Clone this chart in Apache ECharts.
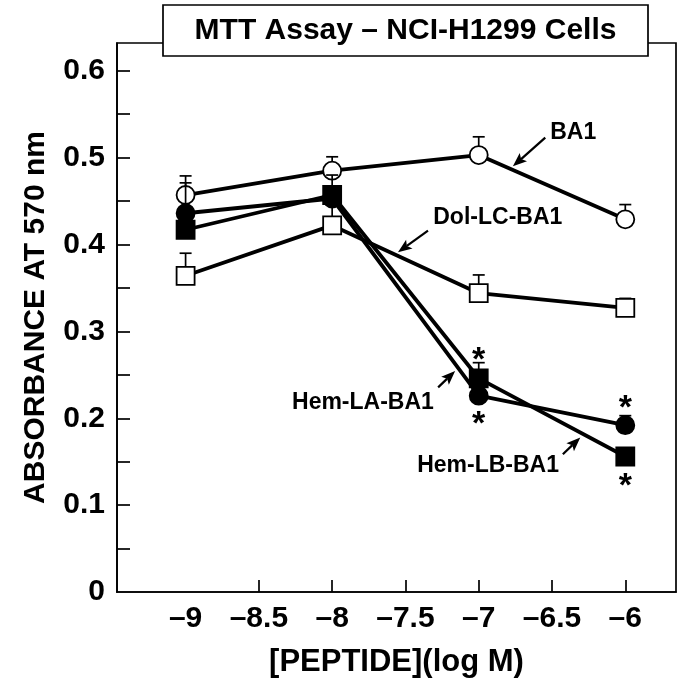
<!DOCTYPE html>
<html><head><meta charset="utf-8">
<script src="https://cdn.jsdelivr.net/npm/echarts@6/dist/echarts.min.js"></script>
<style>html,body{margin:0;padding:0;background:#fff}#c{width:682px;height:683px}</style>
</head><body><div id="c"></div>
<script>
// ---- data ----
const logConc = [-9, -8, -7, -6];
const ba1 = [0.457, 0.485, 0.503, 0.429];
const ba1Err = [0.022, 0.016, 0.021, 0.017];
const dolLC = [0.364, 0.422, 0.344, 0.327];
const dolLCErr = [0.026, 0.030, 0.021, 0.011];
const hemLA = [0.436, 0.453, 0.226, 0.192];
const hemLAErr = [0.035, 0.010, 0.015, 0.011];
const hemLB = [0.417, 0.457, 0.246, 0.156];
const hemLBErr = [0.015, 0.023, 0.018, 0.008];
const xTickLabels = [-9, -8.5, -8, -7.5, -7, -6.5, -6];
const xTickMarks = [-8.5, -8, -7.5, -7, -6.5, -6];
const yTickLabels = [0, 0.1, 0.2, 0.3, 0.4, 0.5, 0.6];
const yTickMarks = [0.05, 0.1, 0.15, 0.2, 0.25, 0.3, 0.35, 0.4, 0.45, 0.5, 0.55, 0.6];
const starX = [-7, -7, -6, -6];
const starY = [0.276, 0.202, 0.220, 0.130];
const labelNames = ['BA1', 'Dol-LC-BA1', 'Hem-LA-BA1', 'Hem-LB-BA1'];
const labelX = [-6.355, -6.870, -7.790, -6.936];
const labelY = [0.529, 0.431, 0.218, 0.145];
const arrowFromX = [-6.546, -7.346, -7.277, -6.426];
const arrowFromY = [0.523, 0.416, 0.2356, 0.1586];
const arrowToX = [-6.767, -7.551, -7.161, -6.307];
const arrowToY = [0.490, 0.391, 0.2544, 0.1778];
const titleText = 'MTT Assay \u2013 NCI-H1299 Cells';
const xName = '[PEPTIDE](log M)';
const yName = 'ABSORBANCE AT 570 nm';

// ---- chart ----
const FONT = '"Liberation Sans", Arial, Helvetica, sans-serif';
const chart = echarts.init(document.getElementById('c'), null, {renderer: 'canvas'});

function pairs(vals) { return logConc.map((x, i) => [x, vals[i]]); }
function errData(vals, errs) { return logConc.map((x, i) => [x, vals[i], errs[i]]); }

function errRender(params, api) {
  const x = api.value(0), y = api.value(1), e = api.value(2);
  const p0 = api.coord([x, y]), p1 = api.coord([x, y + e]);
  const hw = 6;
  const st = {stroke: '#000', lineWidth: 1.7};
  return {type: 'group', children: [
    {type: 'line', shape: {x1: p0[0], y1: p0[1], x2: p1[0], y2: p1[1]}, style: st},
    {type: 'line', shape: {x1: p1[0] - hw, y1: p1[1], x2: p1[0] + hw, y2: p1[1]}, style: st}
  ]};
}

function lineSeries(name, vals, symbol, filled, z) {
  return {
    type: 'line', name: name, data: pairs(vals), z: z,
    symbol: symbol, symbolSize: 18,
    showSymbol: true, animation: false,
    lineStyle: {color: '#000', width: 3.8},
    itemStyle: {color: filled ? '#000' : '#fff', borderColor: '#000', borderWidth: 1.8}
  };
}
function errSeries(vals, errs, z) {
  return {type: 'custom', data: errData(vals, errs), renderItem: errRender, z: z, animation: false, silent: true};
}

const option = {
  animation: false,
  backgroundColor: '#fff',
  grid: {left: 117, top: 43, right: 6, bottom: 90, show: true, borderColor: '#000', borderWidth: 1.7, backgroundColor: 'transparent'},
  xAxis: {
    type: 'value', min: -9.468, max: -5.654,
    name: xName, nameLocation: 'middle', nameGap: 55,
    nameTextStyle: {fontFamily: FONT, fontWeight: 'bold', fontSize: 31, color: '#000'},
    axisLine: {show: true, onZero: false, lineStyle: {color: '#000', width: 1.7}},
    axisTick: {show: true, inside: true, length: 12, customValues: xTickMarks, lineStyle: {color: '#000', width: 1.7}},
    axisLabel: {customValues: xTickLabels, margin: 12, fontFamily: FONT, fontWeight: 'bold', fontSize: 30, color: '#000',
      formatter: v => (v < 0 ? '\u2013' : '') + String(Math.abs(v))},
    splitLine: {show: false}
  },
  yAxis: {
    type: 'value', min: 0, max: 0.632,
    name: yName, nameLocation: 'middle', nameGap: 66, nameRotate: 90,
    nameTextStyle: {fontFamily: FONT, fontWeight: 'bold', fontSize: 30, color: '#000'},
    axisLine: {show: true, onZero: false, lineStyle: {color: '#000', width: 1.7}},
    axisTick: {show: true, inside: true, length: 13, customValues: yTickMarks, lineStyle: {color: '#000', width: 1.7}},
    axisLabel: {customValues: yTickLabels, margin: 12, fontFamily: FONT, fontWeight: 'bold', fontSize: 30, color: '#000',
      formatter: v => String(Math.round(v * 10) / 10)},
    splitLine: {show: false}
  },
  graphic: [
    {type: 'rect', z: 100, shape: {x: 163, y: 5, width: 485, height: 51},
      style: {fill: '#fff', stroke: '#000', lineWidth: 1.7}},
    {type: 'text', z: 101, x: 405.5, y: 31,
      style: {text: titleText, fill: '#000', font: 'bold 30px ' + FONT, align: 'center', verticalAlign: 'middle'}}
  ],
  series: [
    errSeries(ba1, ba1Err, 2),
    lineSeries('BA1', ba1, 'circle', false, 3),
    errSeries(dolLC, dolLCErr, 4),
    lineSeries('Dol-LC-BA1', dolLC, 'rect', false, 5),
    errSeries(hemLA, hemLAErr, 6),
    lineSeries('Hem-LA-BA1', hemLA, 'circle', true, 7),
    errSeries(hemLB, hemLBErr, 8),
    lineSeries('Hem-LB-BA1', hemLB, 'rect', true, 9),
    {
      type: 'custom', z: 10, silent: true, animation: false,
      data: arrowFromX.map((x, i) => [x, arrowFromY[i], arrowToX[i], arrowToY[i]]),
      renderItem: function (params, api) {
        const a = api.coord([api.value(0), api.value(1)]);
        const b = api.coord([api.value(2), api.value(3)]);
        const dx = b[0] - a[0], dy = b[1] - a[1];
        const L = Math.sqrt(dx * dx + dy * dy), ux = dx / L, uy = dy / L;
        const hl = 14, hw = 5.5;
        const bx = b[0] - ux * hl, by = b[1] - uy * hl;
        return {type: 'group', children: [
          {type: 'line', shape: {x1: a[0], y1: a[1], x2: bx + ux * 3, y2: by + uy * 3}, style: {stroke: '#000', lineWidth: 2.2}},
          {type: 'polygon', shape: {points: [[b[0], b[1]], [bx - uy * hw, by + ux * hw], [bx + ux * 3, by + uy * 3], [bx + uy * hw, by - ux * hw]]}, style: {fill: '#000'}}
        ]};
      }
    },
    {
      type: 'custom', z: 10, silent: true, animation: false,
      data: labelX.map((x, i) => [x, labelY[i]]),
      renderItem: function (params, api) {
        const p = api.coord([api.value(0), api.value(1)]);
        return {type: 'text', x: p[0], y: p[1],
          style: {text: labelNames[params.dataIndex], fill: '#000', font: 'bold 23px ' + FONT, align: 'center', verticalAlign: 'middle'}};
      }
    },
    {
      type: 'custom', z: 10, silent: true, animation: false,
      data: starX.map((x, i) => [x, starY[i]]),
      renderItem: function (params, api) {
        const p = api.coord([api.value(0), api.value(1)]);
        return {type: 'text', x: p[0], y: p[1] + 8,
          style: {text: '*', fill: '#000', font: 'bold 34px ' + FONT, align: 'center', verticalAlign: 'middle'}};
      }
    }
  ]
};
chart.setOption(option);
</script>
</body></html>
